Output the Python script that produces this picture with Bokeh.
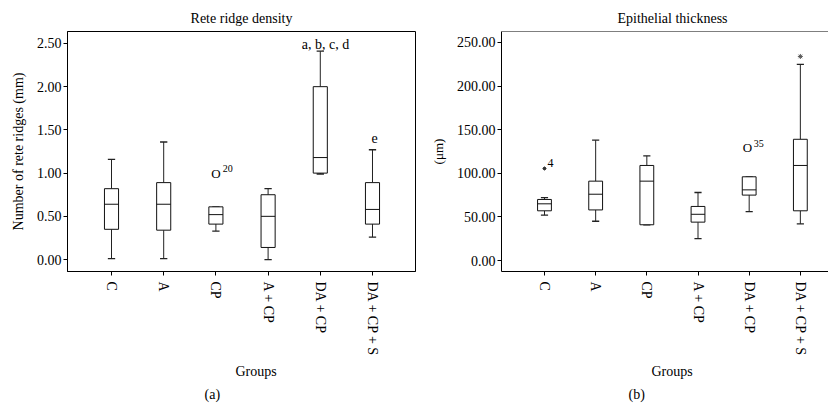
from bokeh.plotting import figure
from bokeh.layouts import row
from bokeh.models import (FixedTicker, NumeralTickFormatter, Label, Span,
                          ColumnDataSource, Title)
from bokeh.embed import file_html
from bokeh.resources import INLINE

# ---------------- data ----------------
groups = ["C", "A", "CP", "A + CP", "DA + CP", "DA + CP + S"]
positions = [0, 1, 2, 3, 4, 5]

# (a) Rete ridge density (number of rete ridges per mm)
rrd_low = [0.01, 0.01, 0.33, 0.00, 0.99, 0.26]
rrd_q1 = [0.35, 0.34, 0.41, 0.14, 1.00, 0.41]
rrd_med = [0.64, 0.64, 0.52, 0.50, 1.18, 0.58]
rrd_q3 = [0.82, 0.89, 0.61, 0.75, 2.00, 0.89]
rrd_high = [1.16, 1.36, 0.61, 0.82, 2.41, 1.27]
rrd_ticks = [0.0, 0.5, 1.0, 1.5, 2.0, 2.5]
rrd_outlier_x = [2]
rrd_outlier_y = [0.99]
rrd_outlier_id = ["20"]

# (b) Epithelial thickness (um)
et_low = [52, 45, 41, 25, 56, 42]
et_q1 = [57, 58, 41, 44, 75, 57]
et_med = [65, 76, 91, 53, 81, 109]
et_q3 = [70, 91, 109, 62, 96, 139]
et_high = [72, 138, 120, 78, 96, 225]
et_ticks = [0, 50, 100, 150, 200, 250]
et_extreme_x = [0]
et_extreme_y = [105.5]
et_extreme_id = ["4"]
et_outlier_x = [4]
et_outlier_y = [129.6]
et_outlier_id = ["35"]
et_star_x = [5]
et_star_y = [234]

FONT = "Liberation Serif"
BOX_W = 0.27
CAP_W = 0.14


def style_axes(p, ticks):
    p.xgrid.visible = False
    p.ygrid.visible = False
    for ax in (p.xaxis[0], p.yaxis[0]):
        ax.axis_line_color = "black"
        ax.major_tick_line_color = "black"
        ax.minor_tick_line_color = None
        ax.major_tick_in = 0
        ax.major_tick_out = 4
        ax.major_label_text_font = FONT
        ax.major_label_text_font_size = "14px"
        ax.major_label_text_color = "black"
        ax.axis_label_text_font = FONT
        ax.axis_label_text_font_style = "normal"
        ax.axis_label_text_font_size = "14px"
        ax.axis_label_text_color = "black"
    p.xaxis.ticker = FixedTicker(ticks=positions)
    p.xaxis.major_label_overrides = {i: g for i, g in zip(positions, groups)}
    p.xaxis.major_label_orientation = "vertical"
    p.xaxis.major_label_standoff = 6
    p.yaxis.ticker = FixedTicker(ticks=ticks)
    p.yaxis.formatter = NumeralTickFormatter(format="0.00")
    p.yaxis.major_label_standoff = 2


def style_title(t, align, offset, standoff):
    t.text_font = FONT
    t.text_font_size = "14px"
    t.text_font_style = "normal"
    t.text_color = "black"
    t.align = align
    t.offset = offset
    t.standoff = standoff


def add_below(p, text, offset, standoff):
    t = Title(text=text)
    style_title(t, "left", offset, standoff)
    p.add_layout(t, "below")


def draw_boxes(p, low, q1, med, q3, high):
    src = ColumnDataSource(dict(
        x=positions,
        l=[x - BOX_W / 2 for x in positions],
        r=[x + BOX_W / 2 for x in positions],
        cl=[x - CAP_W / 2 for x in positions],
        cr=[x + CAP_W / 2 for x in positions],
        low=low, q1=q1, med=med, q3=q3, high=high))
    p.segment(x0="x", y0="q3", x1="x", y1="high", source=src,
              line_color="#222222", line_width=1)
    p.segment(x0="x", y0="q1", x1="x", y1="low", source=src,
              line_color="#222222", line_width=1)
    p.segment(x0="cl", y0="high", x1="cr", y1="high", source=src,
              line_color="#222222", line_width=1.3)
    p.segment(x0="cl", y0="low", x1="cr", y1="low", source=src,
              line_color="#222222", line_width=1.3)
    p.quad(left="l", right="r", bottom="q1", top="q3", source=src,
           fill_color="white", line_color="#111111", line_width=1)
    p.segment(x0="l", y0="med", x1="r", y1="med", source=src,
              line_color="#111111", line_width=1)


def lab(p, x, y, text, size="14px", align="center"):
    p.add_layout(Label(x=x, y=y, text=text, text_font=FONT,
                       text_font_size=size, text_color="black",
                       text_align=align, text_baseline="middle"))


# ---------------- panel (a) ----------------
p1 = figure(width=418, height=405, x_range=(-0.843, 5.824),
            y_range=(-0.138, 2.638), output_backend="svg",
            toolbar_location=None, min_border_left=67, min_border_right=3,
            min_border_top=31, min_border_bottom=133)
p1.outline_line_color = "black"
p1.outline_line_width = 1
p1.title.text = "Rete ridge density"
style_title(p1.title, "center", 0, 12)
style_axes(p1, rrd_ticks)
p1.yaxis.axis_label = "Number of rete ridges (mm)"
p1.yaxis.axis_label_standoff = 8
draw_boxes(p1, rrd_low, rrd_q1, rrd_med, rrd_q3, rrd_high)

for ox, oy, oid in zip(rrd_outlier_x, rrd_outlier_y, rrd_outlier_id):
    lab(p1, ox, oy, "O", size="13px")
    lab(p1, ox + 0.13, oy + 0.065, oid, size="10px", align="left")

lab(p1, 4.1, 2.49, "a, b, c, d")
lab(p1, 5.04, 1.41, "e")
add_below(p1, "Groups", 168, 4)
add_below(p1, "(a)", 137, 8)

# ---------------- panel (b) ----------------
p2 = figure(width=410, height=405, x_range=(-0.84, 5.55),
            y_range=(-12.6, 262.6), output_backend="svg",
            toolbar_location=None, min_border_left=83, min_border_right=0,
            min_border_top=31, min_border_bottom=133)
p2.outline_line_color = None
p2.title.text = "Epithelial thickness"
style_title(p2.title, "left", 116, 12)
style_axes(p2, et_ticks)
p2.yaxis.axis_label = "(μm)"
p2.yaxis.axis_label_text_font_size = "13px"
p2.yaxis.axis_label_standoff = 8
p2.add_layout(Span(location=262.6, dimension="width", line_color="black",
                   line_width=1))
draw_boxes(p2, et_low, et_q1, et_med, et_q3, et_high)

p2.scatter(x=et_extreme_x, y=et_extreme_y, marker="asterisk", size=4,
           line_color="#333333", line_width=1)
for ex, ey, eid in zip(et_extreme_x, et_extreme_y, et_extreme_id):
    lab(p2, ex + 0.06, ey + 6, eid, size="12px", align="left")
for ox, oy, oid in zip(et_outlier_x, et_outlier_y, et_outlier_id):
    lab(p2, ox - 0.035, oy, "O", size="13px")
    lab(p2, ox + 0.09, oy + 5, oid, size="10px", align="left")
p2.scatter(x=et_star_x, y=et_star_y, marker="asterisk", size=5,
           line_color="#555555", line_width=1)

add_below(p2, "Groups", 150, 4)
add_below(p2, "(b)", 127, 8)

layout = row(p1, p2)
open("out.html", "w").write(file_html(layout, INLINE))
